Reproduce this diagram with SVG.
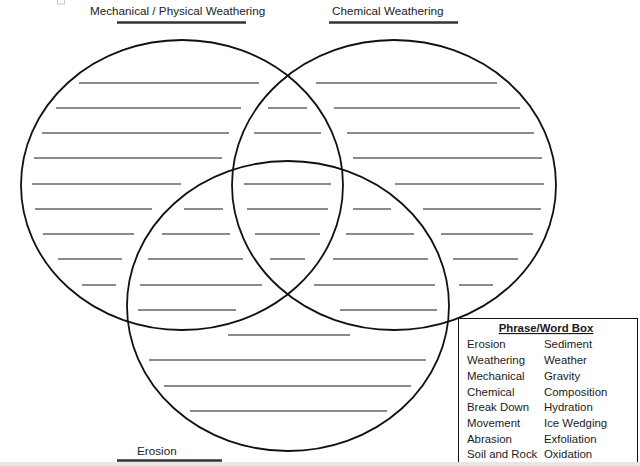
<svg xmlns="http://www.w3.org/2000/svg" width="640" height="466" viewBox="0 0 640 466">
<style>
.ell{fill:none;stroke:#111;stroke-width:1.8}
.wl{stroke:#8a8a8a;stroke-width:2;stroke-linecap:butt}
.ttl{font-family:"Liberation Sans",Arial,sans-serif;font-size:11.7px;fill:#222}
.ul{stroke:#333;stroke-width:2.4}
.wb{font-family:"Liberation Sans",Arial,sans-serif;font-size:11.4px;fill:#1a1a1a}
.wbh{font-family:"Liberation Sans",Arial,sans-serif;font-size:11.4px;font-weight:bold;fill:#1a1a1a;text-decoration:underline}
</style>
<rect width="640" height="466" fill="#fff"/>
<rect x="57.5" y="-3" width="7" height="7" fill="none" stroke="#c8c8c8" stroke-width="1"/>
<g id="writing-lines" class="wl">
<path d="M79 83H259M316 83H497"/>
<path d="M56 108H241M268 108H307M334 108H520"/>
<path d="M42 133H229M254 133H321M347 133H534"/>
<path d="M34 158H222M353 158H542"/>
<path d="M32 184H181M244 184H331M395 184H544"/>
<path d="M35 209H152M184 209H223M247 209H328M353 209H391M423 209H541"/>
<path d="M43 234H134M162 234H230M255 234H320M346 234H414M441 234H533"/>
<path d="M58 259H122M148 259H243M270 259H305M333 259H428M453 259H518"/>
<path d="M82 285H116M140 285H262M314 285H435M459 285H493"/>
<path d="M138 310H236M340 310H437"/>
<path d="M228 335H350"/>
<path d="M149 360H426"/>
<path d="M164 386H411"/>
<path d="M190 411H387"/>
</g>
<g id="circle-mechanical">
<ellipse class="ell" cx="182" cy="185" rx="161" ry="145"/>
<text class="ttl" x="90" y="15">Mechanical / Physical Weathering</text>
<line class="ul" x1="117" y1="22.5" x2="246" y2="22.5"/>
</g>
<g id="circle-chemical">
<ellipse class="ell" cx="394" cy="185" rx="162" ry="145"/>
<text class="ttl" x="332" y="15">Chemical Weathering</text>
<line class="ul" x1="329" y1="22.5" x2="458" y2="22.5"/>
</g>
<g id="circle-erosion">
<ellipse class="ell" cx="288" cy="306" rx="161" ry="145"/>
<text class="ttl" x="137" y="455" font-size="11.3">Erosion</text>
<line class="ul" x1="117" y1="460.5" x2="222" y2="460.5"/>
</g>
<g id="word-box">
<rect x="458.5" y="318.5" width="179" height="160" fill="#fff" stroke="#111" stroke-width="1"/>
<text class="wbh" x="546" y="332" text-anchor="middle">Phrase/Word Box</text>
<g class="wb">
<text x="467" y="348">Erosion</text><text x="544" y="348">Sediment</text>
<text x="467" y="364">Weathering</text><text x="544" y="364">Weather</text>
<text x="467" y="380">Mechanical</text><text x="544" y="380">Gravity</text>
<text x="467" y="396">Chemical</text><text x="544" y="396">Composition</text>
<text x="467" y="411">Break Down</text><text x="544" y="411">Hydration</text>
<text x="467" y="427">Movement</text><text x="544" y="427">Ice Wedging</text>
<text x="467" y="443">Abrasion</text><text x="544" y="443">Exfoliation</text>
<text x="467" y="458">Soil and Rock</text><text x="544" y="458">Oxidation</text>
</g>
</g>
<rect x="0" y="462" width="640" height="4" fill="#e6e6e6"/>
</svg>
